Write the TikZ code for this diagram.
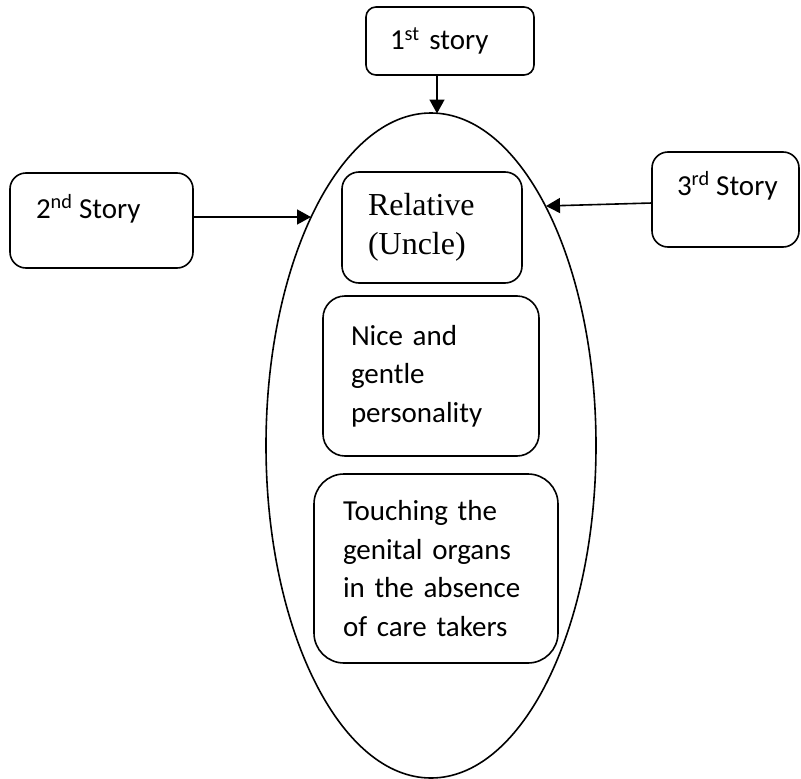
\documentclass[tikz,border=0pt]{standalone}
\usepackage{fontspec}
\setmainfont{Carlito}
\newfontfamily\timesfont{Liberation Serif}
\usetikzlibrary{arrows.meta,shapes.geometric}

\begin{document}
\begin{tikzpicture}[
  x=1pt, y=-1pt,
  every node/.style={inner sep=0pt, outer sep=0pt},
  stroke/.style={line width=1.6pt, black},
  box/.style={stroke, draw, rectangle},
  bodytext/.style={font=\fontsize{29}{38.5}\selectfont, align=left},
  serifbody/.style={font=\timesfont\fontsize{32}{39}\selectfont, align=left},
  arr/.style={stroke, -{Triangle[length=14pt,width=15pt]}}
]
\useasboundingbox (0,0) rectangle (801,779);

% central ellipse holding the shared elements
\node[stroke, draw, ellipse, minimum width=330pt, minimum height=665pt] (ell) at (431,445.5) {};

% the three stories
\node[box, rounded corners=10pt, minimum width=168pt, minimum height=68pt,
      bodytext, text width=120pt] (s1) at (450,41) {1\textsuperscript{st} story};

\node[box, rounded corners=16pt, minimum width=183pt, minimum height=95pt] (s2) at (101.5,220.5) {};
\node[bodytext, anchor=base west] (s2t) at (36,218) {2\textsuperscript{nd} Story};

\node[box, rounded corners=16pt, minimum width=147pt, minimum height=95pt] (s3) at (725.5,199.5) {};
\node[bodytext, anchor=base west] (s3t) at (677,195) {3\textsuperscript{rd} Story};

% boxes inside the ellipse
\node[box, rounded corners=17pt, minimum width=180pt, minimum height=111pt,
      serifbody, text width=128pt] (rel) at (432,227.5) {Relative\\(Uncle)};

\node[box, rounded corners=22pt, minimum width=216pt, minimum height=160pt,
      bodytext, text width=160pt] (nice) at (431,376) {Nice and\\gentle\\personality};

\node[box, rounded corners=30pt, minimum width=244pt, minimum height=189pt,
      bodytext, text width=186pt] (touch) at (436,568.5)
      {Touching the\\genital organs\\in the absence\\of care takers};

% arrow end points on the ellipse border
\coordinate (e1) at (437,113.5);
\coordinate (e2) at (311,217);
\coordinate (e3) at (546,206);

\draw[arr] (s1.south -| e1) -- (e1);
\draw[arr] (s2.east |- e2) -- (e2);
\draw[arr] ([yshift=-3.5pt]s3.west) -- (e3);
\end{tikzpicture}
\end{document}
